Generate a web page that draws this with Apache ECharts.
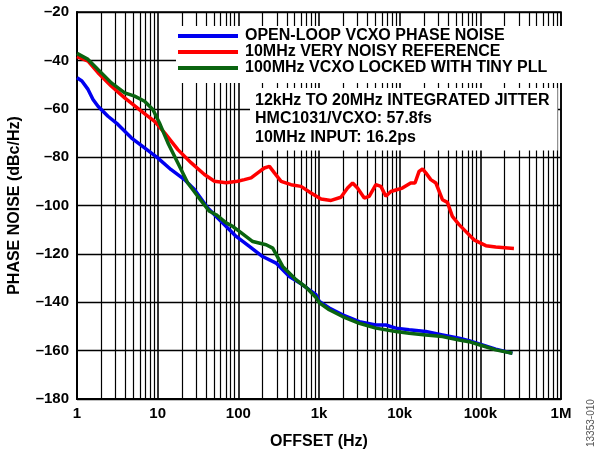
<!DOCTYPE html>
<html>
<head>
<meta charset="utf-8">
<script src="https://cdn.jsdelivr.net/npm/echarts@6/dist/echarts.min.js"></script>
<style>
html,body{margin:0;padding:0;background:#fff;}
#chart{width:598px;height:451px;}
</style>
</head>
<body>
<div id="chart"></div>
<script>
// ---- data (offset Hz, phase noise dBc/Hz) ----
const seriesNames = [
  'OPEN-LOOP VCXO PHASE NOISE',
  '10MHz VERY NOISY REFERENCE',
  '100MHz VCXO LOCKED WITH TINY PLL'
];
const openLoopVcxo = [
  [1, -47.2], [1.15, -48.5], [1.37, -52.0], [1.58, -56.2], [1.82, -59.0], [2.42, -63.1],
  [3.22, -66.5], [4.71, -72.0], [6.88, -76.2], [10, -80.3], [14.7, -85.2], [21.5, -89.3],
  [28.6, -93.4], [41.8, -101.0], [58.4, -105.9], [94, -112.8], [137, -116.9], [200, -121.1],
  [294, -123.8], [429, -129.4], [627, -132.8], [759, -134.9], [918, -136.9], [1010, -139.7],
  [1340, -142.4], [1960, -145.2], [3160, -148.0], [5070, -149.4], [6740, -149.4],
  [8970, -150.7], [13100, -151.4], [21100, -152.1], [33900, -153.5], [54500, -154.9],
  [72400, -155.9], [106000, -157.6], [155000, -159.4], [250000, -161.1]
];
const noisyReference = [
  [1, -38.5], [1.37, -40.3], [1.82, -45.1], [2.67, -50.7], [3.9, -55.5], [6.27, -61.0],
  [9.16, -65.2], [12.2, -70.0], [17.8, -76.9], [26.1, -82.4], [38, -87.2], [50.6, -90.0],
  [70.6, -90.6], [98, -90.0], [119, -89.3], [144, -88.6], [174, -86.5], [210, -84.5],
  [243, -83.8], [280, -86.5], [339, -90.0], [450, -91.4], [598, -92.1], [796, -94.8],
  [1060, -97.3], [1410, -97.9], [1870, -96.6], [2260, -92.8], [2610, -90.7], [3000, -92.8],
  [3640, -96.9], [4190, -96.2], [5070, -91.4], [5850, -92.1], [6740, -96.2], [7780, -94.2],
  [9860, -93.2], [10800, -92.8], [13700, -90.7], [15500, -90.7], [17400, -85.9],
  [19200, -84.9], [21100, -86.5], [24300, -89.3], [28100, -90.7], [33900, -97.6],
  [39100, -98.7], [45000, -104.5], [54500, -107.9], [65900, -110.7], [83500, -114.2],
  [117000, -116.6], [155000, -117.2], [261000, -117.8]
];
const lockedVcxo = [
  [1, -37.1], [1.37, -39.6], [1.82, -43.8], [2.67, -49.3], [3.9, -53.4], [5.18, -54.8],
  [6.88, -56.9], [8.72, -60.3], [10.5, -65.8], [13.4, -74.1], [17.8, -82.4], [23.6, -90.7],
  [31.4, -96.2], [43.9, -102.4], [53, -103.8], [70.6, -107.2], [85, -108.6], [103, -110.7],
  [151, -114.9], [221, -116.2], [267, -117.6], [355, -125.2], [519, -130.7], [690, -133.8],
  [918, -138.0], [1010, -140.2], [1340, -143.1], [1960, -145.9], [3160, -148.7],
  [5070, -150.7], [8970, -152.1], [13100, -152.8], [21100, -153.5], [33900, -154.2],
  [54500, -155.6], [72400, -156.3], [106000, -158.0], [155000, -159.7], [250000, -161.1]
];
const xTickLabels = ['1', '10', '100', '1k', '10k', '100k', '1M'];
const yTicks = [-180, -160, -140, -120, -100, -80, -60, -40, -20];
const jitterNote = [
  '12kHz TO 20MHz INTEGRATED JITTER',
  'HMC1031/VCXO: 57.8fs',
  '10MHz INPUT: 16.2ps'
];
const figureId = '13353-010';

// minor log grid positions (2..9 x each decade)
const minorGrid = [];
for (let d = 0; d < xTickLabels.length - 1; d++) {
  for (let m = 2; m <= 9; m++) minorGrid.push({ xAxis: m * Math.pow(10, d) });
}

const FONT = '"Liberation Sans", Arial, Helvetica, sans-serif';
const chart = echarts.init(document.getElementById('chart'), null, { renderer: 'canvas' });

chart.setOption({
  animation: false,
  backgroundColor: '#fff',
  grid: {
    left: 77, right: 37, top: 12, bottom: 52, outerBoundsMode: 'none', containLabel: false,
    show: true, borderColor: '#000', borderWidth: 1.5, backgroundColor: 'transparent'
  },
  xAxis: {
    type: 'log', logBase: 10, min: 1, max: 1e6,
    name: 'OFFSET (Hz)', nameLocation: 'middle', nameGap: 35,
    nameTextStyle: { fontFamily: FONT, fontWeight: 'bold', fontSize: 16, color: '#000' },
    axisLine: { show: true, lineStyle: { color: '#000', width: 2 } },
    axisTick: { show: false },
    axisLabel: {
      margin: 7, fontFamily: FONT, fontWeight: 'bold', fontSize: 15, color: '#000',
      formatter: v => xTickLabels[Math.round(Math.log10(v))]
    },
    splitLine: { show: true, lineStyle: { color: '#000', width: 1.6 } },
    minorTick: { show: false }
  },
  yAxis: {
    type: 'value', min: -180, max: -20, interval: 20,
    name: 'PHASE NOISE (dBc/Hz)', nameLocation: 'middle', nameGap: 54,
    nameTextStyle: { fontFamily: FONT, fontWeight: 'bold', fontSize: 16, color: '#000' },
    axisLine: { show: true, lineStyle: { color: '#000', width: 2 } },
    axisTick: { show: false },
    axisLabel: {
      margin: 8, fontFamily: FONT, fontWeight: 'bold', fontSize: 15, color: '#000',
      formatter: v => (yTicks.indexOf(v) >= 0 ? String(v).replace('-', '\u2013') : '')
    },
    splitLine: { show: true, lineStyle: { color: '#000', width: 1.4 } }
  },
  legend: {
    z: 6,
    data: seriesNames, orient: 'vertical', left: 176, top: 26, padding: [2, 17, 7, 2],
    backgroundColor: '#fff',
    itemWidth: 60, itemHeight: 4, itemGap: 0, icon: 'rect', selectedMode: false,
    textStyle: { fontFamily: FONT, fontWeight: 'bold', fontSize: 16, color: '#000', lineHeight: 16, padding: [0, 0, 0, 2] }
  },
  title: {
    z: 6,
    text: jitterNote.join('\n'), left: 250, top: 88, padding: [3, 8, 4, 5],
    backgroundColor: '#fff',
    textStyle: { fontFamily: FONT, fontWeight: 'bold', fontSize: 16, lineHeight: 18.5, color: '#000' }
  },
  graphic: [
    { type: 'text', z: 4, x: 586, y: 447, rotation: Math.PI / 2,
      style: { text: figureId, font: '10px ' + FONT, fill: '#555' } }
  ],
  series: [
    {
      name: 'minor-grid', type: 'line', z: 1, data: [[1, -180]], showSymbol: false,
      lineStyle: { opacity: 0 }, silent: true,
      markLine: {
        z: 1,
        silent: true, symbol: ['none', 'none'], label: { show: false },
        lineStyle: { color: '#000', width: 1.2, type: 'solid' },
        emphasis: { disabled: true }, animation: false,
        data: minorGrid
      }
    },
    { name: seriesNames[0], type: 'line', z: 10, data: openLoopVcxo, showSymbol: false, color: '#0000f0', lineStyle: { width: 3.5, color: '#0000f0' } },
    { name: seriesNames[1], type: 'line', z: 10, data: noisyReference, showSymbol: false, color: '#ff0000', lineStyle: { width: 3.5, color: '#ff0000' } },
    { name: seriesNames[2], type: 'line', z: 11, data: lockedVcxo, showSymbol: false, color: '#0a6410', lineStyle: { width: 3.5, color: '#0a6410' } }
  ]
});
</script>
</body>
</html>
